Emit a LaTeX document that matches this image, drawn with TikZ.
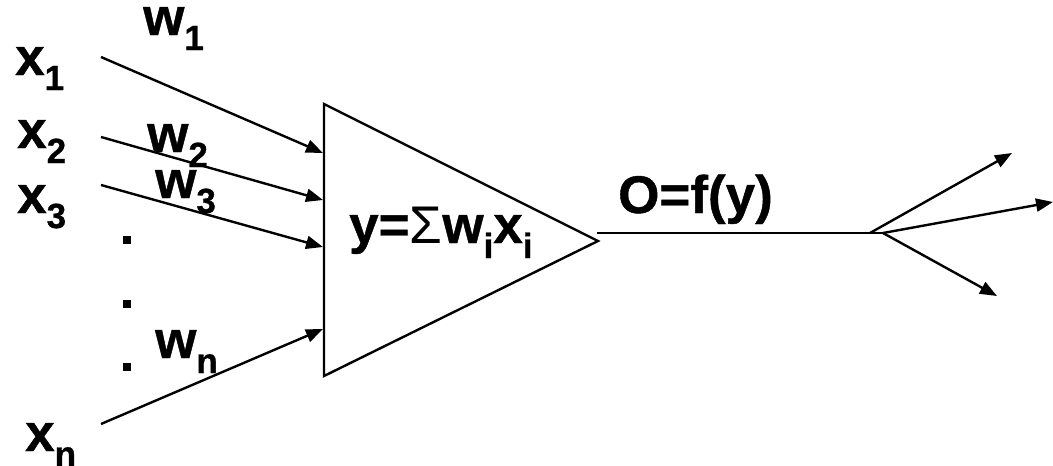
\documentclass[tikz,border=0pt]{standalone}
\usepackage{fontspec}
\setmainfont{Liberation Sans}[BoldFeatures={FakeBold=0.8}]
\usetikzlibrary{arrows.meta}
\newcommand{\lowsub}[1]{\raisebox{-15pt}{\fontsize{35}{35}\selectfont #1}}
\begin{document}
\begin{tikzpicture}[x=1pt,y=-1pt,
  lbl/.style={inner sep=0pt,anchor=base west,font=\fontsize{53}{60}\selectfont\bfseries},
  wire/.style={line width=2.4pt},
  arr/.style={line width=2.4pt,-{Triangle[length=17pt,width=13pt]}},
  dotsq/.style={fill=black,inner sep=0pt,minimum size=8pt,draw=none}]
\useasboundingbox (0,0) rectangle (1053,466);
% triangle
\coordinate (ta) at (324,104);
\coordinate (tb) at (324,376);
\coordinate (tc) at (598,241);
\draw[wire,line join=miter] (ta) -- (tb) -- (tc) -- cycle;
% input starts and ends
\coordinate (s1) at (101,57);  \coordinate (e1) at (323,153);
\coordinate (s2) at (101,137); \coordinate (e2) at (323,200);
\coordinate (s3) at (101,185); \coordinate (e3) at (323,247);
\coordinate (s4) at (101,424); \coordinate (e4) at (323,329);
\draw[arr] (s1) -- (e1);
\draw[arr] (s2) -- (e2);
\draw[arr] (s3) -- (e3);
\draw[arr] (s4) -- (e4);
% labels
\node[lbl] (x1) at (15,75) {x\lowsub{1}};
\node[lbl] (x2) at (17,148) {x\lowsub{2}};
\node[lbl] (x3) at (17,213) {x\lowsub{3}};
\node[lbl] (xn) at (25,451) {x\lowsub{n}};
\node[lbl] (w1) at (143,35) {w\lowsub{1}};
\node[lbl] (w2) at (147,152) {w\lowsub{2}};
\node[lbl] (w3) at (155,198) {w\lowsub{3}};
\node[lbl] (wn) at (155,358) {w\lowsub{n}};
% dots
\node[dotsq] (d1) at (127,240) {};
\node[dotsq] (d2) at (127,304) {};
\node[dotsq] (d3) at (127,367) {};
% formula
\node[lbl] (sum) at (349,243) {y={\mdseries Σ}w\lowsub{i}x\lowsub{i}};
\node[lbl] (out) at (618,213) {O=f(y)};
% output
\coordinate (o1) at (597,233);
\coordinate (j) at (883,233);
\coordinate (ju) at (870,233);
\coordinate (r1) at (1012,153);
\coordinate (r2) at (1053,202);
\coordinate (r3) at (997,296);
\draw[wire] (o1) -- (j);
\draw[arr] (ju) -- (r1);
\draw[arr] (j) -- (r2);
\draw[arr] (j) -- (r3);
\end{tikzpicture}
\end{document}
